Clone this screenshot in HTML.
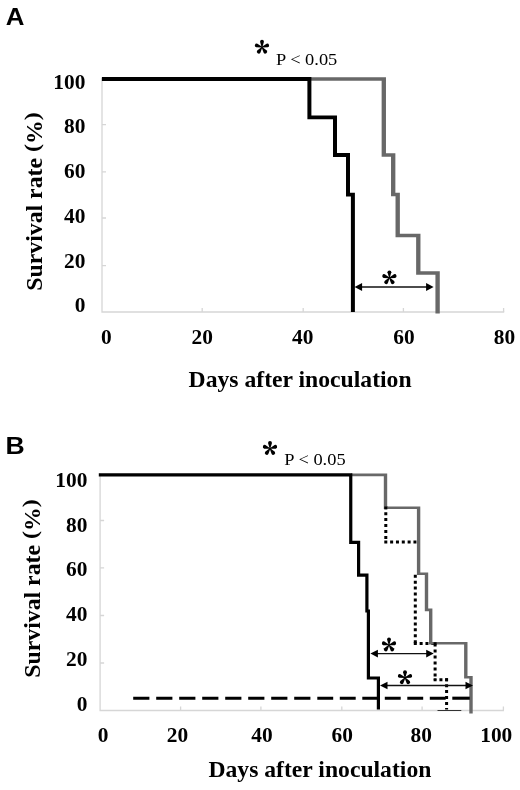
<!DOCTYPE html>
<html>
<head>
<meta charset="utf-8">
<style>
html,body{margin:0;padding:0;background:#fff;}
body{width:520px;height:790px;overflow:hidden;position:relative;}
svg{position:absolute;left:0;top:0;display:block;will-change:transform;}
text{font-family:"Liberation Serif",serif;fill:#000;}
.sb{font-family:"Liberation Serif",serif;font-weight:bold;}
.lab{font-family:"Liberation Sans",sans-serif;font-weight:bold;}
.p{font-family:"Liberation Serif",serif;font-weight:normal;}
</style>
</head>
<body>
<svg width="520" height="790" viewBox="0 0 520 790">
<rect width="520" height="790" fill="#fff"/>

<g id="A">
<text class="lab" x="5.8" y="24.5" font-size="23.6" textLength="18.7" lengthAdjust="spacingAndGlyphs" text-anchor="start" >A</text>
<g stroke="#d6d6d6" stroke-width="1.3" fill="none">
<path d="M102 78 V312 H504.2"/>
<path d="M102 124.6 h4 M102 171.8 h4 M102 218 h4 M102 265.6 h4"/>
<path d="M202.2 312 v-4 M303.2 312 v-4 M403.4 312 v-4 M503.6 312 v-4"/>
</g>
<text class="sb" x="53.3" y="88.7" font-size="21.4" textLength="32.1" lengthAdjust="spacingAndGlyphs" text-anchor="start" >100</text>
<text class="sb" x="64.0" y="133.4" font-size="21.4" textLength="21.4" lengthAdjust="spacingAndGlyphs" text-anchor="start" >80</text>
<text class="sb" x="64.0" y="178.2" font-size="21.4" textLength="21.4" lengthAdjust="spacingAndGlyphs" text-anchor="start" >60</text>
<text class="sb" x="64.0" y="222.6" font-size="21.4" textLength="21.4" lengthAdjust="spacingAndGlyphs" text-anchor="start" >40</text>
<text class="sb" x="64.0" y="267.9" font-size="21.4" textLength="21.4" lengthAdjust="spacingAndGlyphs" text-anchor="start" >20</text>
<text class="sb" x="74.7" y="312.1" font-size="21.4" textLength="10.7" lengthAdjust="spacingAndGlyphs" text-anchor="start" >0</text>
<text class="sb" x="100.9" y="343.9" font-size="21.4" textLength="10.7" lengthAdjust="spacingAndGlyphs" text-anchor="start" >0</text>
<text class="sb" x="191.55" y="343.9" font-size="21.4" textLength="21.4" lengthAdjust="spacingAndGlyphs" text-anchor="start" >20</text>
<text class="sb" x="292.05" y="343.9" font-size="21.4" textLength="21.4" lengthAdjust="spacingAndGlyphs" text-anchor="start" >40</text>
<text class="sb" x="393.3" y="343.9" font-size="21.4" textLength="21.4" lengthAdjust="spacingAndGlyphs" text-anchor="start" >60</text>
<text class="sb" x="493.7" y="343.9" font-size="21.4" textLength="21.4" lengthAdjust="spacingAndGlyphs" text-anchor="start" >80</text>
<text class="sb" x="188.6" y="386.6" font-size="23.5" textLength="223" lengthAdjust="spacingAndGlyphs" text-anchor="start" >Days after inoculation</text>
<g transform="translate(42,290.8) rotate(-90)"><text class="sb" x="0" y="0" font-size="23.4" textLength="132.85" lengthAdjust="spacingAndGlyphs">Survival rate</text><text class="sb" font-size="23.4" transform="translate(138.81,-2.74) scale(1.0171,0.85)">(</text><text class="sb" x="146.74" y="0" font-size="23.4" textLength="23.80" lengthAdjust="spacingAndGlyphs">%</text><text class="sb" font-size="23.4" transform="translate(170.55,-2.74) scale(1.0171,0.85)">)</text></g>
<path transform="scale(1.24,1)" d="M249.194 79 H309.516 V155 H317.097 V194.6 H320.726 V235.5 H337.339 V273 H352.903 V313.4" stroke="#686868" stroke-width="3.5" fill="none" />
<path transform="scale(1.05,1)" d="M97.048 79 H294.667 V117.4 H319.048 V155 H331.429 V194.6 H336.095 V311.9" stroke="#000" stroke-width="3.8" fill="none" />
<g fill="#000"><path d="M358 287 H430" stroke="#111" stroke-width="1.4"/>
<path d="M354.6 287 l7.5 -4 v8 z M433.6 287 l-7.5 -4 v8 z"/></g>
<g transform="translate(389.4,277.8)" fill="#000"><path transform="rotate(0)" d="M-0.35,0 L-1.95,-5.45 A1.95,1.95 0 1 1 1.95,-5.45 L0.35,0 Z"/><path transform="rotate(72)" d="M-0.35,0 L-1.95,-5.45 A1.95,1.95 0 1 1 1.95,-5.45 L0.35,0 Z"/><path transform="rotate(144)" d="M-0.35,0 L-1.95,-5.45 A1.95,1.95 0 1 1 1.95,-5.45 L0.35,0 Z"/><path transform="rotate(216)" d="M-0.35,0 L-1.95,-5.45 A1.95,1.95 0 1 1 1.95,-5.45 L0.35,0 Z"/><path transform="rotate(288)" d="M-0.35,0 L-1.95,-5.45 A1.95,1.95 0 1 1 1.95,-5.45 L0.35,0 Z"/><circle r="0.7"/></g>
<g transform="translate(262,47.2)" fill="#000"><path transform="rotate(0)" d="M-0.35,0 L-1.95,-5.45 A1.95,1.95 0 1 1 1.95,-5.45 L0.35,0 Z"/><path transform="rotate(72)" d="M-0.35,0 L-1.95,-5.45 A1.95,1.95 0 1 1 1.95,-5.45 L0.35,0 Z"/><path transform="rotate(144)" d="M-0.35,0 L-1.95,-5.45 A1.95,1.95 0 1 1 1.95,-5.45 L0.35,0 Z"/><path transform="rotate(216)" d="M-0.35,0 L-1.95,-5.45 A1.95,1.95 0 1 1 1.95,-5.45 L0.35,0 Z"/><path transform="rotate(288)" d="M-0.35,0 L-1.95,-5.45 A1.95,1.95 0 1 1 1.95,-5.45 L0.35,0 Z"/><circle r="0.7"/></g>
<text class="p" x="276" y="64.7" font-size="17.4" textLength="61.3" lengthAdjust="spacingAndGlyphs" text-anchor="start" >P &lt; 0.05</text>
</g>
<g id="B">
<text class="lab" x="5.6" y="453.8" font-size="23.4" textLength="19.2" lengthAdjust="spacingAndGlyphs" text-anchor="start" >B</text>
<g stroke="#d6d6d6" stroke-width="1.3" fill="none">
<path d="M100.1 473.5 V710.5 H504"/>
<path d="M100.1 520.5 h4 M100.1 567.9 h4 M100.1 615.5 h4 M100.1 663 h4"/>
<path d="M180.6 710.5 v-4 M260.9 710.5 v-4 M341.8 710.5 v-4 M422.1 710.5 v-4 M503.4 710.5 v-4"/>
</g>
<text class="sb" x="55.3" y="486.8" font-size="21.4" textLength="32.1" lengthAdjust="spacingAndGlyphs" text-anchor="start" >100</text>
<text class="sb" x="66.0" y="531.5" font-size="21.4" textLength="21.4" lengthAdjust="spacingAndGlyphs" text-anchor="start" >80</text>
<text class="sb" x="66.0" y="576.1" font-size="21.4" textLength="21.4" lengthAdjust="spacingAndGlyphs" text-anchor="start" >60</text>
<text class="sb" x="66.0" y="621.1" font-size="21.4" textLength="21.4" lengthAdjust="spacingAndGlyphs" text-anchor="start" >40</text>
<text class="sb" x="66.0" y="666.1" font-size="21.4" textLength="21.4" lengthAdjust="spacingAndGlyphs" text-anchor="start" >20</text>
<text class="sb" x="76.7" y="711.1" font-size="21.4" textLength="10.7" lengthAdjust="spacingAndGlyphs" text-anchor="start" >0</text>
<text class="sb" x="97.65" y="742.1" font-size="21.4" textLength="10.7" lengthAdjust="spacingAndGlyphs" text-anchor="start" >0</text>
<text class="sb" x="166.8" y="742.1" font-size="21.4" textLength="21.4" lengthAdjust="spacingAndGlyphs" text-anchor="start" >20</text>
<text class="sb" x="251.3" y="742.1" font-size="21.4" textLength="21.4" lengthAdjust="spacingAndGlyphs" text-anchor="start" >40</text>
<text class="sb" x="331.55" y="742.1" font-size="21.4" textLength="21.4" lengthAdjust="spacingAndGlyphs" text-anchor="start" >60</text>
<text class="sb" x="410.55" y="742.1" font-size="21.4" textLength="21.4" lengthAdjust="spacingAndGlyphs" text-anchor="start" >80</text>
<text class="sb" x="480.2" y="742.1" font-size="21.4" textLength="32.1" lengthAdjust="spacingAndGlyphs" text-anchor="start" >100</text>
<text class="sb" x="208.4" y="777" font-size="23.5" textLength="223" lengthAdjust="spacingAndGlyphs" text-anchor="start" >Days after inoculation</text>
<g transform="translate(39.9,677.8) rotate(-90)"><text class="sb" x="0" y="0" font-size="23.4" textLength="132.85" lengthAdjust="spacingAndGlyphs">Survival rate</text><text class="sb" font-size="23.4" transform="translate(138.81,-2.74) scale(1.0171,0.85)">(</text><text class="sb" x="146.74" y="0" font-size="23.4" textLength="23.80" lengthAdjust="spacingAndGlyphs">%</text><text class="sb" font-size="23.4" transform="translate(170.55,-2.74) scale(1.0171,0.85)">)</text></g>
<path d="M385.8 506.2 V542.1" stroke="#000" stroke-width="3" fill="none" stroke-dasharray="3 2.96"/>
<path d="M384.3 542.1 H418.5" stroke="#000" stroke-width="3" fill="none" stroke-dasharray="3 2.83"/>
<path d="M415.3 574.7 V643.5" stroke="#000" stroke-width="3" fill="none" stroke-dasharray="3 2.96"/>
<path d="M413.8 643.5 H435" stroke="#000" stroke-width="3" fill="none" stroke-dasharray="3 2.83"/>
<path d="M435.1 643.6 V679.7" stroke="#000" stroke-width="3" fill="none" stroke-dasharray="3 2.96"/>
<path d="M433.6 679.7 H448" stroke="#000" stroke-width="3" fill="none" stroke-dasharray="3 2.83"/>
<path d="M446.6 678.2 V709.6" stroke="#000" stroke-width="3" fill="none" stroke-dasharray="3 2.96"/>
<path transform="scale(1.28,1)" d="M274.219 474.9 H301.172 V507.7 H327.031 V573.7 H333.203 V609.8 H336.484 V643.2 H363.906 V677.2 H367.969 V713.6" stroke="#686868" stroke-width="2.65" fill="none" />
<path transform="scale(1.0,1)" d="M98.800 474.9 H350.750 V542.3 H358.600 V575.2 H366.900 V611 H368.400 V678 H378.400 V709.5" stroke="#000" stroke-width="3.2" fill="none" />
<path d="M384.3 507.9 h3 M433.6 643.6 h3" stroke="#000" stroke-width="2.6" fill="none"/>
<path d="M133.2 698.2 H317.2" stroke="#000" stroke-width="3.1" fill="none" stroke-dasharray="16.2 6.8"/>
<path d="M317.3 698.2 H452" stroke="#000" stroke-width="3.1" fill="none" stroke-dasharray="15.9 6.6"/>
<path d="M452.3 698.2 H469.8" stroke="#000" stroke-width="3.1" fill="none"/>
<path d="M437.5 710.5 H461.3" stroke="#333" stroke-width="1" fill="none"/>
<g fill="#000"><path d="M374 653.6 H430 M384 685.5 H469" stroke="#111" stroke-width="1.3"/>
<path d="M370.4 653.6 l7.5 -3.8 v7.6 z M433.7 653.6 l-7.5 -3.8 v7.6 z"/>
<path d="M380 685.5 l7.5 -3.8 v7.6 z M473 685.5 l-7.5 -3.8 v7.6 z"/></g>
<g transform="translate(389,645)" fill="#000"><path transform="rotate(0)" d="M-0.35,0 L-1.95,-5.45 A1.95,1.95 0 1 1 1.95,-5.45 L0.35,0 Z"/><path transform="rotate(72)" d="M-0.35,0 L-1.95,-5.45 A1.95,1.95 0 1 1 1.95,-5.45 L0.35,0 Z"/><path transform="rotate(144)" d="M-0.35,0 L-1.95,-5.45 A1.95,1.95 0 1 1 1.95,-5.45 L0.35,0 Z"/><path transform="rotate(216)" d="M-0.35,0 L-1.95,-5.45 A1.95,1.95 0 1 1 1.95,-5.45 L0.35,0 Z"/><path transform="rotate(288)" d="M-0.35,0 L-1.95,-5.45 A1.95,1.95 0 1 1 1.95,-5.45 L0.35,0 Z"/><circle r="0.7"/></g>
<g transform="translate(405,677.7)" fill="#000"><path transform="rotate(0)" d="M-0.35,0 L-1.95,-5.45 A1.95,1.95 0 1 1 1.95,-5.45 L0.35,0 Z"/><path transform="rotate(72)" d="M-0.35,0 L-1.95,-5.45 A1.95,1.95 0 1 1 1.95,-5.45 L0.35,0 Z"/><path transform="rotate(144)" d="M-0.35,0 L-1.95,-5.45 A1.95,1.95 0 1 1 1.95,-5.45 L0.35,0 Z"/><path transform="rotate(216)" d="M-0.35,0 L-1.95,-5.45 A1.95,1.95 0 1 1 1.95,-5.45 L0.35,0 Z"/><path transform="rotate(288)" d="M-0.35,0 L-1.95,-5.45 A1.95,1.95 0 1 1 1.95,-5.45 L0.35,0 Z"/><circle r="0.7"/></g>
<g transform="translate(270,448.5)" fill="#000"><path transform="rotate(0)" d="M-0.35,0 L-1.95,-5.45 A1.95,1.95 0 1 1 1.95,-5.45 L0.35,0 Z"/><path transform="rotate(72)" d="M-0.35,0 L-1.95,-5.45 A1.95,1.95 0 1 1 1.95,-5.45 L0.35,0 Z"/><path transform="rotate(144)" d="M-0.35,0 L-1.95,-5.45 A1.95,1.95 0 1 1 1.95,-5.45 L0.35,0 Z"/><path transform="rotate(216)" d="M-0.35,0 L-1.95,-5.45 A1.95,1.95 0 1 1 1.95,-5.45 L0.35,0 Z"/><path transform="rotate(288)" d="M-0.35,0 L-1.95,-5.45 A1.95,1.95 0 1 1 1.95,-5.45 L0.35,0 Z"/><circle r="0.7"/></g>
<text class="p" x="284.3" y="465" font-size="17.4" textLength="61.3" lengthAdjust="spacingAndGlyphs" text-anchor="start" >P &lt; 0.05</text>
</g>
</svg>
</body>
</html>
